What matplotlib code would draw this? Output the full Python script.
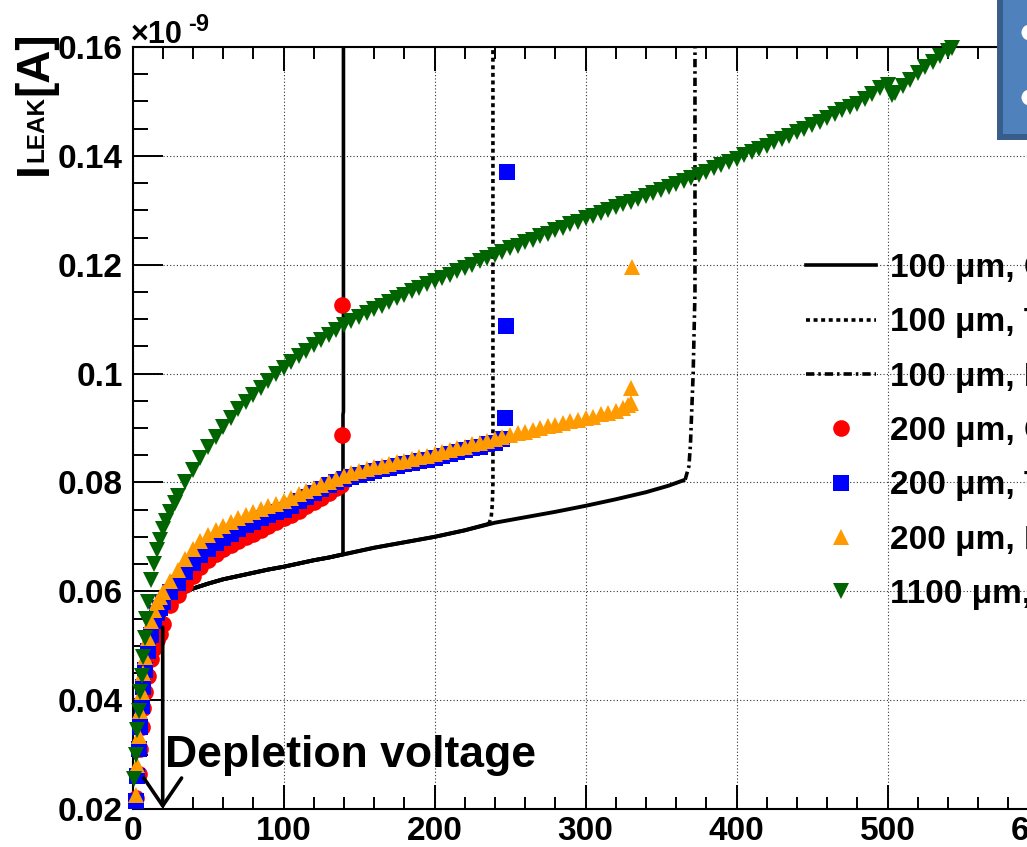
import matplotlib.pyplot as plt
import numpy as np
from matplotlib.lines import Line2D
from matplotlib.patches import Rectangle
from matplotlib.ticker import MultipleLocator, FormatStrFormatter

plt.rcParams['font.family'] = ['Liberation Sans', 'DejaVu Sans']
plt.rcParams['font.weight'] = 'bold'

# ---- 100 um sensors: common IV curve (units of 1e-9 A) ----
v_100 = np.array([20, 21, 23, 26, 30, 35, 40, 50, 60, 70, 80, 90, 100, 110, 120, 130,
                  140, 160, 180, 200, 220, 240, 260, 280, 300, 320, 340, 355, 365])
i_100 = np.array([0.0545, 0.0560, 0.0572, 0.0582, 0.0590, 0.0599, 0.0605, 0.0614, 0.0622,
                  0.0628, 0.0634, 0.0640, 0.0645, 0.0651, 0.0657, 0.0662, 0.0668, 0.0680,
                  0.0690, 0.0700, 0.0712, 0.0726, 0.0736, 0.0746, 0.0757, 0.0769, 0.0782,
                  0.0794, 0.0804])

# breakdown part of each 100 um sensor
v_bd_a = [139.4, 139.4, 139.7, 139.7]
i_bd_a = [0.0668, 0.0925, 0.0930, 0.175]
v_bd_b = [236.0, 237.5, 238.3, 238.7, 238.7]
i_bd_b = [0.0724, 0.0735, 0.0760, 0.0800, 0.175]
v_bd_c = [366.0, 368.5, 369.5, 371.3, 372.5, 372.5]
i_bd_c = [0.0805, 0.0830, 0.0870, 0.1000, 0.1150, 0.175]

# ---- 200 um sensors ----
v_red = [2.5, 4, 5, 6, 7, 8, 10, 12, 14, 16, 18, 20, 25, 30, 35, 40, 45, 50, 55, 60, 65,
         70, 75, 80, 85, 90, 95, 100, 105, 110, 115, 120, 125, 130, 135, 138, 138.7, 138.7]
i_red = [0.0220, 0.0265, 0.0310, 0.0350, 0.0385, 0.0415, 0.0445, 0.0475, 0.0495, 0.0510,
         0.0522, 0.0540, 0.0575, 0.0594, 0.0611, 0.0628, 0.0645, 0.0658, 0.0669, 0.0677,
         0.0685, 0.0692, 0.0699, 0.0706, 0.0713, 0.0720, 0.0727, 0.0734, 0.0741, 0.0748,
         0.0756, 0.0764, 0.0772, 0.0781, 0.0790, 0.0796, 0.0887, 0.1126]

v_blue = [2, 3, 4, 5, 6, 7, 8, 10, 12, 14, 16, 18, 20, 25, 30, 35, 40, 45, 50, 55, 60, 65,
          70, 75, 80, 85, 90, 95, 100, 105, 110, 115, 120, 125, 130, 135, 140, 145, 150,
          155, 160, 165, 170, 175, 180, 185, 190, 195, 200, 205, 210, 215, 220, 225, 230,
          235, 240, 245, 247, 247.5, 248]
i_blue = [0.0215, 0.0260, 0.0310, 0.0350, 0.0390, 0.0425, 0.0455, 0.0490, 0.0520, 0.0545,
          0.0560, 0.0570, 0.0580, 0.0598, 0.0615, 0.0635, 0.0652, 0.0666, 0.0678, 0.0689,
          0.0698, 0.0706, 0.0714, 0.0721, 0.0728, 0.0734, 0.0740, 0.0745, 0.0750, 0.0757,
          0.0765, 0.0773, 0.0781, 0.0788, 0.0795, 0.0801, 0.0806, 0.0810, 0.0814, 0.0818,
          0.0821, 0.0824, 0.0827, 0.0830, 0.0833, 0.0836, 0.0839, 0.0842, 0.0845, 0.0849,
          0.0852, 0.0856, 0.0859, 0.0863, 0.0866, 0.0870, 0.0873, 0.0880, 0.0918, 0.1087,
          0.1370]

v_orange = [2, 3, 4, 5, 6, 7, 8, 10, 12, 14, 16, 18, 20, 25, 30, 35, 40, 45, 50, 55, 60,
            65, 70, 75, 80, 85, 90, 95, 100, 105, 110, 115, 120, 125, 130, 135, 140, 145,
            150, 155, 160, 165, 170, 175, 180, 185, 190, 195, 200, 205, 210, 215, 220, 225,
            230, 235, 240, 245, 250, 255, 260, 265, 270, 275, 280, 285, 290, 295, 300, 305,
            310, 315, 320, 325, 328, 330, 330, 331]
i_orange = [0.0225, 0.0280, 0.0335, 0.0380, 0.0415, 0.0450, 0.0480, 0.0515, 0.0545, 0.0565,
            0.0580, 0.0590, 0.0598, 0.0618, 0.0640, 0.0660, 0.0678, 0.0692, 0.0703, 0.0712,
            0.0720, 0.0727, 0.0734, 0.0740, 0.0746, 0.0751, 0.0756, 0.0761, 0.0766, 0.0772,
            0.0778, 0.0784, 0.0790, 0.0796, 0.0801, 0.0806, 0.0812, 0.0817, 0.0821, 0.0824,
            0.0828, 0.0831, 0.0834, 0.0837, 0.0840, 0.0843, 0.0846, 0.0849, 0.0852, 0.0856,
            0.0859, 0.0863, 0.0866, 0.0870, 0.0873, 0.0877, 0.0880, 0.0883, 0.0887, 0.0890,
            0.0893, 0.0896, 0.0900, 0.0903, 0.0906, 0.0909, 0.0912, 0.0915, 0.0918, 0.0921,
            0.0925, 0.0928, 0.0932, 0.0937, 0.0942, 0.0946, 0.0973, 0.1196]

# ---- 1100 um sensor ----
v_green = [1, 2, 3, 4, 5, 6, 7, 8, 9, 10, 12, 14, 16, 18, 20, 22, 25, 28,
           30, 35, 40, 45, 50, 55, 60, 65, 70, 75, 80, 85, 90, 95, 100, 105, 110, 115,
           120, 125, 130, 135, 140, 145, 150, 155, 160, 165, 170, 175, 180, 185, 190, 195,
           200, 205, 210, 215, 220, 225, 230, 235, 240, 245, 250, 255, 260, 265, 270, 275,
           280, 285, 290, 295, 300, 305, 310, 315, 320, 325, 330, 335, 340, 345, 350, 355,
           360, 365, 370, 375, 380, 385, 390, 395, 400, 405, 410, 415, 420, 425, 430, 435,
           440, 445, 450, 455, 460, 465, 470, 475, 480, 485, 490, 495, 500, 503, 505, 510,
           515, 520, 525, 530, 535, 540, 543]
i_green = [0.0255, 0.0300, 0.0345, 0.0380, 0.0415, 0.0445, 0.0480, 0.0515, 0.0550, 0.0580,
           0.0620, 0.0650, 0.0675, 0.0695, 0.0715, 0.0730, 0.0745, 0.0762,
           0.0775, 0.0800, 0.0823, 0.0845, 0.0865, 0.0884, 0.0902, 0.0919, 0.0934, 0.0948,
           0.0961, 0.0974, 0.0987, 0.0999, 0.1010, 0.1021, 0.1032, 0.1042, 0.1052, 0.1062,
           0.1071, 0.1080, 0.1089, 0.1097, 0.1104, 0.1111, 0.1118, 0.1125, 0.1132, 0.1139,
           0.1145, 0.1151, 0.1158, 0.1164, 0.1170, 0.1176, 0.1182, 0.1188, 0.1194, 0.1200,
           0.1206, 0.1212, 0.1218, 0.1224, 0.1230, 0.1235, 0.1241, 0.1246, 0.1252, 0.1257,
           0.1263, 0.1268, 0.1274, 0.1279, 0.1285, 0.1290, 0.1295, 0.1300, 0.1306, 0.1311,
           0.1316, 0.1321, 0.1327, 0.1332, 0.1337, 0.1343, 0.1348, 0.1354, 0.1359, 0.1365,
           0.1371, 0.1377, 0.1383, 0.1389, 0.1395, 0.1401, 0.1407, 0.1413, 0.1419, 0.1425,
           0.1431, 0.1437, 0.1443, 0.1450, 0.1456, 0.1463, 0.1470, 0.1477, 0.1484, 0.1490,
           0.1496, 0.1504, 0.1514, 0.1524, 0.1530, 0.1512, 0.1516, 0.1528, 0.1540, 0.1552,
           0.1563, 0.1573, 0.1583, 0.1593, 0.1598]

labels = ['100 \u03bcm, Cz', '100 \u03bcm, Tz', '100 \u03bcm, MCz',
          '200 \u03bcm, Cz', '200 \u03bcm, Tz', '200 \u03bcm, MCz', '1100 \u03bcm, Fz']
v_depletion = 20

red = '#ff0000'
blue = '#0000ff'
orange = '#ff9a00'
green = '#006400'
dotted = (0, (1.1, 1.0))
dashdot = (0, (2.3, 1.1, 0.7, 1.1))

fig = plt.figure(figsize=(10.27, 8.47), dpi=100)
# x axis runs further to the right than the canvas
ax = fig.add_axes([132.5 / 1027, 38 / 847, 700 * 1.51 / 1027, 762 / 847])
ax.set_xlim(0, 700)
ax.set_ylim(0.02, 0.16)

# 100 um: dense part is drawn solid, breakdown in the sample's line style
for v_bd, i_bd, ls in [(v_bd_a, i_bd_a, '-'), (v_bd_b, i_bd_b, dotted),
                       (v_bd_c, i_bd_c, dashdot)]:
    keep = v_100 < v_bd[0]
    ax.plot(np.append(v_100[keep], v_bd[0]), np.append(i_100[keep], i_bd[0]),
            color='k', lw=2.8, solid_capstyle='butt', zorder=3)
    ax.plot(v_bd, i_bd, color='k', lw=2.6, ls=ls, dash_capstyle='butt', zorder=3)

ms = 12
for v, i, m, c in [(v_red, i_red, 'o', red), (v_blue, i_blue, 's', blue),
                   (v_orange, i_orange, '^', orange), (v_green, i_green, 'v', green)]:
    ax.plot(v, i, ls='none', marker=m, ms=ms, mew=0, color=c, clip_on=False, zorder=4)

# depletion voltage arrow
ax.annotate('', xy=(v_depletion, 0.02), xytext=(v_depletion, 0.0534),
            arrowprops=dict(arrowstyle='->,head_length=1.0,head_width=0.68', lw=2.6,
                            color='k', shrinkA=0, shrinkB=0, mutation_scale=20),
            zorder=5)
ax.annotate('Depletion voltage', xy=(v_depletion, 0.0277), xytext=(1.5, 0),
            textcoords='offset points', fontsize=32, fontweight='bold',
            ha='left', va='baseline', zorder=5)

# axes in ROOT style
ax.xaxis.set_major_locator(MultipleLocator(100))
ax.xaxis.set_minor_locator(MultipleLocator(20))
ax.yaxis.set_major_locator(MultipleLocator(0.02))
ax.yaxis.set_minor_locator(MultipleLocator(0.005))
ax.yaxis.set_major_formatter(FormatStrFormatter('%g'))
ax.tick_params(which='both', direction='in', top=True, right=True, width=1.4,
               labelsize=24)
ax.tick_params(axis='x', which='major', length=17, pad=5)
ax.tick_params(axis='x', which='minor', length=8.5)
ax.tick_params(axis='y', which='major', length=21.5, pad=7)
ax.tick_params(axis='y', which='minor', length=11)
for s in ax.spines.values():
    s.set_linewidth(1.5)
ax.grid(True, which='major', ls=(0, (1, 2)), lw=0.8, color='#333333')
ax.set_axisbelow(True)

# y title and exponent
fig.text(47 / 1027, 1 - 175 / 847, 'I', rotation=90, rotation_mode='anchor',
         ha='left', va='baseline', fontsize=33, fontweight='bold')
fig.text(43 / 1027, 1 - 162 / 847, 'LEAK', rotation=90, rotation_mode='anchor',
         ha='left', va='baseline', fontsize=17.5, fontweight='bold')
fig.text(47 / 1027, 1 - 95 / 847, '[A]', rotation=90, rotation_mode='anchor',
         ha='left', va='baseline', fontsize=33, fontweight='bold')
fig.text(131 / 1027, 1 - 43 / 847, '\u00d710', fontsize=22, fontweight='bold',
         ha='left', va='baseline')
fig.text(188 / 1027, 1 - 31 / 847, '-9', fontsize=17, fontweight='bold',
         ha='left', va='baseline')

handles = [Line2D([], [], color='k', lw=2.6, ls='-'),
           Line2D([], [], color='k', lw=2.6, ls=dotted, dash_capstyle='butt'),
           Line2D([], [], color='k', lw=2.6, ls=dashdot, dash_capstyle='butt'),
           Line2D([], [], ls='none', marker='o', ms=ms, mew=0, color=red),
           Line2D([], [], ls='none', marker='s', ms=ms, mew=0, color=blue),
           Line2D([], [], ls='none', marker='^', ms=ms, mew=0, color=orange),
           Line2D([], [], ls='none', marker='v', ms=ms, mew=0, color=green)]
fig.legend(handles, labels, loc='upper left', bbox_to_anchor=(806 / 1027, 1 - 253 / 847),
           bbox_transform=fig.transFigure, frameon=False, borderpad=0, borderaxespad=0,
           prop={'size': 24, 'weight': 'bold'}, handlelength=2.1, handletextpad=0.42,
           labelspacing=0.70)

# slide box overlapping the top right corner
fig.add_artist(Rectangle((1000 / 1027, 1 - 137.5 / 847), 0.2, 0.3,
                         transform=fig.transFigure, facecolor='#4f81bd',
                         edgecolor='#385d8a', lw=4.3, zorder=10))
for y in [32, 97]:
    fig.add_artist(Line2D([1029 / 1027], [1 - y / 847], transform=fig.transFigure,
                          marker='o', ms=11.5, mew=0, color='white', zorder=11))

fig.savefig('out.png', dpi=100)
